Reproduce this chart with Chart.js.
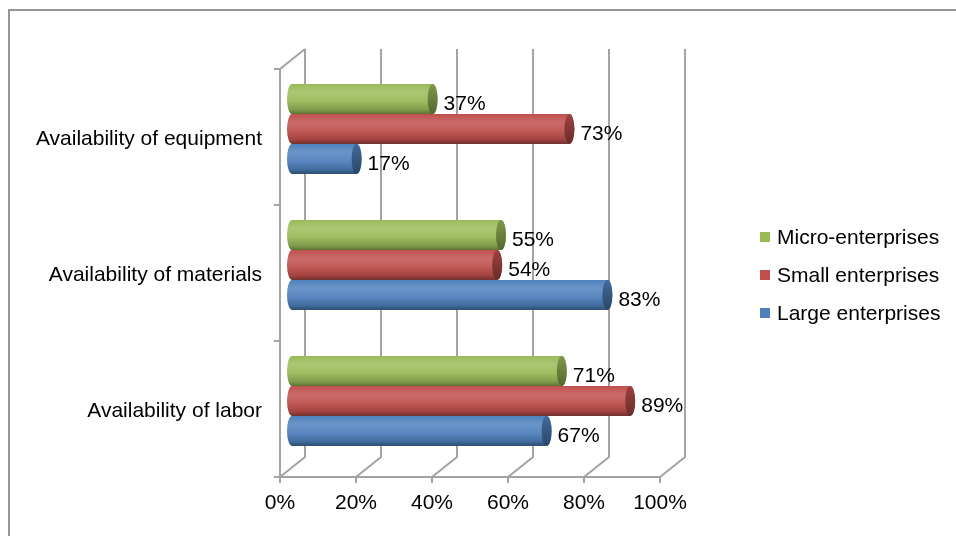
<!DOCTYPE html>
<html>
<head>
<meta charset="utf-8">
<script src="https://cdn.jsdelivr.net/npm/chart.js@4.4.1/dist/chart.umd.min.js"></script>
<style>
  html, body { margin: 0; padding: 0; background: #fff; }
  #wrap { width: 956px; height: 536px; }
</style>
</head>
<body>
<div id="wrap"><canvas id="chart" width="956" height="536"></canvas></div>
<script>
// data
const categories  = ['Availability of equipment', 'Availability of materials', 'Availability of labor'];
const seriesNames = ['Micro-enterprises', 'Small enterprises', 'Large enterprises'];
const microValues = [37, 55, 71];
const smallValues = [73, 54, 89];
const largeValues = [17, 83, 67];
const xTickValues = [0, 20, 40, 60, 80, 100];

const SERIES_COLORS = ['#9bbb59', '#c0504d', '#4f81bd'];
const FONT = "'Liberation Sans', Arial, sans-serif";
const GRID = '#a3a3a3';

// fake 3D: front plane sits left/down of the scale, back wall right/up
const FRONT = { dx: -12, dy: 8 };
const BACK  = { dx: 13,  dy: -12 };

Chart.defaults.font.family = FONT;
Chart.defaults.font.size = 21;
Chart.defaults.color = '#000';

function shade(hex, f) {
  const n = parseInt(hex.slice(1), 16);
  let r = n >> 16, g = (n >> 8) & 255, b = n & 255;
  const t = f < 0 ? 0 : 255, p = Math.abs(f);
  r = Math.round(r + (t - r) * p);
  g = Math.round(g + (t - g) * p);
  b = Math.round(b + (t - b) * p);
  return `rgb(${r},${g},${b})`;
}

const walls = {
  id: 'walls',
  beforeDatasetsDraw(chart) {
    const { ctx, chartArea: a, scales: { x } } = chart;
    ctx.save();
    // outer frame
    ctx.strokeStyle = '#959595';
    ctx.lineWidth = 2;
    ctx.strokeRect(9, 10, 1000, 600);

    ctx.strokeStyle = GRID;
    ctx.lineWidth = 2;
    const fTop = a.top + FRONT.dy, fBot = a.bottom + FRONT.dy;
    const bTop = a.top + BACK.dy,  bBot = a.bottom + BACK.dy;
    ctx.beginPath();
    x.ticks.forEach(t => {
      const px = x.getPixelForValue(t.value);
      const bx = px + BACK.dx, fx = px + FRONT.dx;
      ctx.moveTo(bx, bTop);
      ctx.lineTo(bx, bBot);
      ctx.lineTo(fx, fBot);
      ctx.moveTo(fx, fBot);
      ctx.lineTo(fx, fBot + 6);
    });
    const f0 = x.getPixelForValue(x.min) + FRONT.dx;
    const f1 = x.getPixelForValue(x.max) + FRONT.dx;
    ctx.moveTo(f0, fBot);
    ctx.lineTo(f1, fBot);
    ctx.moveTo(f0, fBot);
    ctx.lineTo(f0, fTop);
    ctx.lineTo(x.getPixelForValue(x.min) + BACK.dx, bTop);
    const step = (a.bottom - a.top) / categories.length;
    for (let i = 0; i <= categories.length; i++) {
      const yy = a.top + i * step + FRONT.dy;
      ctx.moveTo(f0 - 6, yy);
      ctx.lineTo(f0, yy);
    }
    ctx.stroke();
    ctx.restore();
  },
  // skip the flat default bars, cylinders are drawn below
  beforeDatasetDraw() { return false; },
  afterDatasetsDraw(chart) {
    const ctx = chart.ctx;
    ctx.save();
    chart.data.datasets.forEach((ds, di) => {
      const c = SERIES_COLORS[di];
      chart.getDatasetMeta(di).data.forEach(bar => {
        const { x: x1, y: cy, base: x0, height: h } = bar.getProps(['x', 'y', 'base', 'height'], true);
        const top = cy - h / 2, bot = cy + h / 2, rx = 5;
        const g = ctx.createLinearGradient(0, top, 0, bot);
        g.addColorStop(0, shade(c, 0.0));
        g.addColorStop(0.28, shade(c, 0.16));
        g.addColorStop(0.55, shade(c, 0.06));
        g.addColorStop(0.85, shade(c, -0.16));
        g.addColorStop(1, shade(c, -0.4));
        ctx.fillStyle = g;
        ctx.beginPath();
        ctx.moveTo(x0, top);
        ctx.lineTo(x1, top);
        ctx.ellipse(x1, cy, rx, h / 2, 0, -Math.PI / 2, Math.PI / 2);
        ctx.lineTo(x0, bot);
        ctx.ellipse(x0, cy, rx, h / 2, 0, Math.PI / 2, Math.PI * 1.5);
        ctx.closePath();
        ctx.fill();

        const gc = ctx.createLinearGradient(0, top, 0, bot);
        gc.addColorStop(0, shade(c, -0.18));
        gc.addColorStop(1, shade(c, -0.45));
        ctx.fillStyle = gc;
        ctx.beginPath();
        ctx.ellipse(x1, cy, rx, h / 2, 0, 0, Math.PI * 2);
        ctx.fill();
      });
    });

    // value labels
    ctx.fillStyle = '#000';
    ctx.font = `21px ${FONT}`;
    ctx.textAlign = 'left';
    ctx.textBaseline = 'middle';
    chart.data.datasets.forEach((ds, di) => {
      chart.getDatasetMeta(di).data.forEach((bar, i) => {
        ctx.fillText(ds.data[i] + '%', bar.x + 11, bar.y + 5);
      });
    });

    // legend
    seriesNames.forEach((name, i) => {
      const yy = 237 + i * 38;
      ctx.fillStyle = SERIES_COLORS[i];
      ctx.fillRect(760, yy - 5, 10, 10);
      ctx.fillStyle = '#000';
      ctx.fillText(name, 777, yy + 1);
    });
    ctx.restore();
  }
};

new Chart(document.getElementById('chart'), {
  type: 'bar',
  data: {
    labels: categories,
    datasets: [
      { label: seriesNames[0], data: microValues, backgroundColor: SERIES_COLORS[0] },
      { label: seriesNames[1], data: smallValues, backgroundColor: SERIES_COLORS[1] },
      { label: seriesNames[2], data: largeValues, backgroundColor: SERIES_COLORS[2] },
    ],
  },
  options: {
    indexAxis: 'y',
    responsive: false,
    animation: false,
    categoryPercentage: 0.66,
    barPercentage: 1,
    layout: { padding: { top: 61, right: 284, left: 0, bottom: 0 } },
    plugins: {
      legend: { display: false },
      tooltip: { enabled: false },
    },
    scales: {
      x: {
        min: 0,
        max: 100,
        afterBuildTicks: s => { s.ticks = xTickValues.map(v => ({ value: v })); },
        afterFit: s => { s.height = 67; },
        grid: { display: false },
        border: { display: false },
        ticks: {
          padding: 14,
          labelOffset: -12,
          color: '#000',
          callback: v => v + '%',
        },
      },
      y: {
        afterFit: s => { s.width = 292; },
        grid: { display: false },
        border: { display: false },
        ticks: { padding: 22, labelOffset: 10, color: '#000' },
      },
    },
  },
  plugins: [walls],
});
</script>
</body>
</html>
